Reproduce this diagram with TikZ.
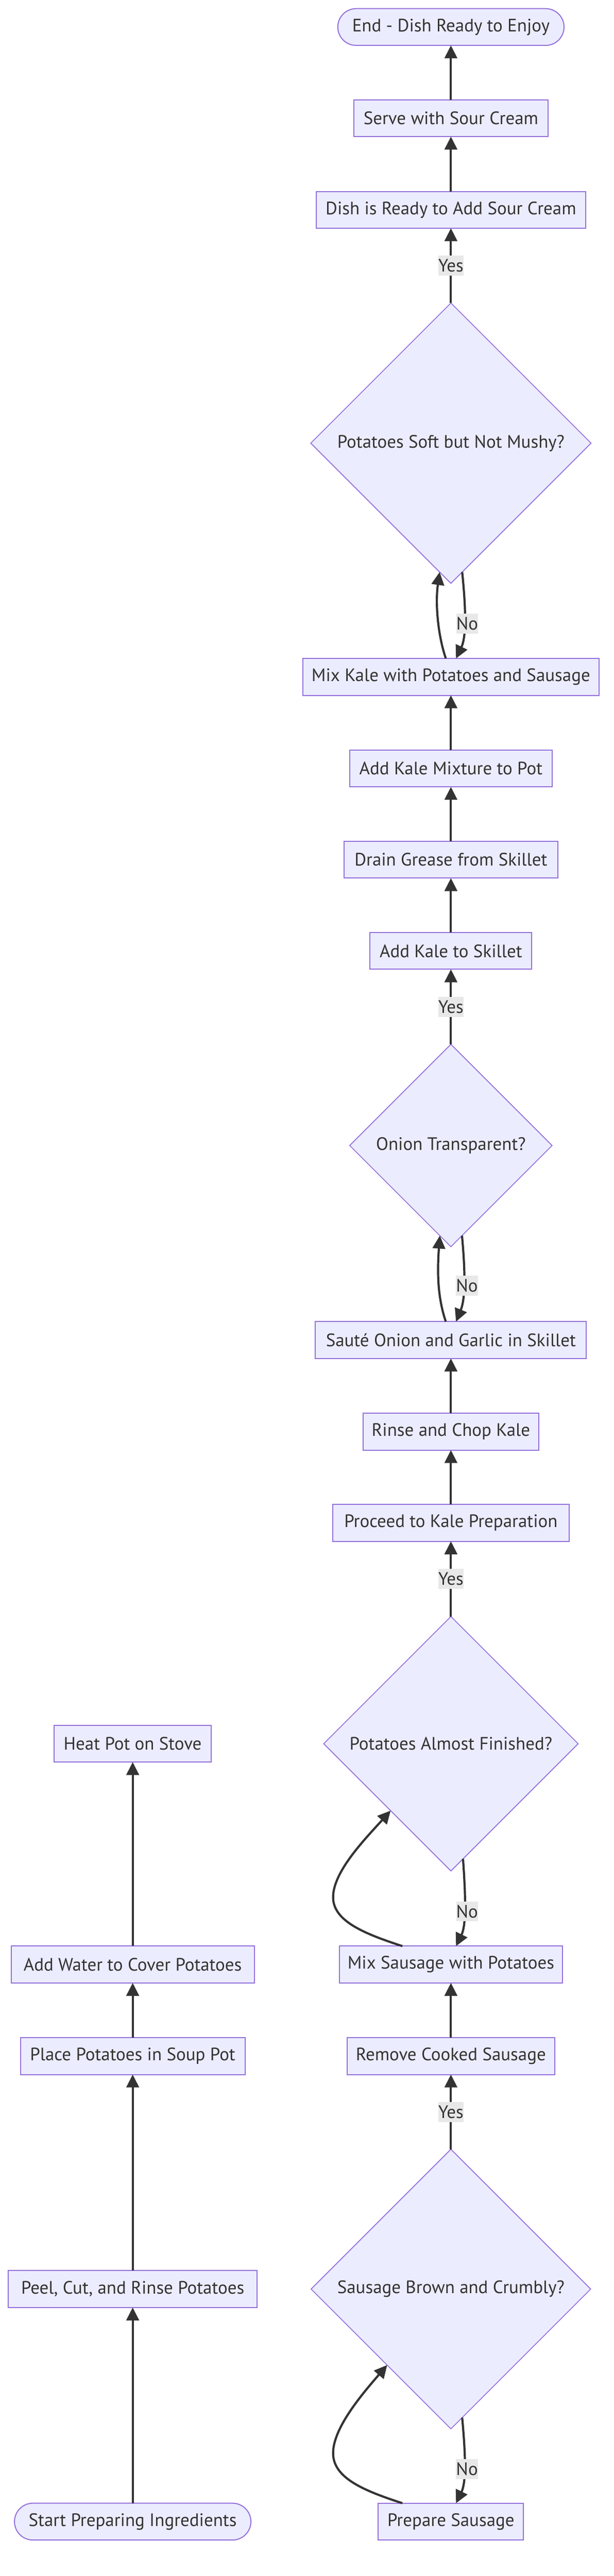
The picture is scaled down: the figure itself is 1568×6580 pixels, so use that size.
\documentclass[tikz,border=0pt]{standalone}
\usepackage{fontspec}
\setmainfont{PT Sans}
\usetikzlibrary{shapes.geometric,arrows.meta,calc}
\definecolor{nodefill}{HTML}{ECECFF}
\definecolor{nodeline}{HTML}{9370DB}
\definecolor{ink}{HTML}{333333}
\definecolor{lblbg}{HTML}{E8E8E8}
\begin{document}
\begin{tikzpicture}[x=1pt,y=-1pt,
  every node/.style={font=\fontsize{46}{55}\selectfont, text=ink},
  box/.style={draw=nodeline, fill=nodefill, line width=2.6pt, rectangle, minimum height=94pt, inner sep=0pt, outer sep=0pt},
  stadium/.style={box, rounded corners=47pt},
  decision/.style={draw=nodeline, fill=nodefill, line width=2.2pt, diamond, aspect=1, inner sep=0pt, outer sep=0pt},
  flow/.style={draw=ink, line width=5.5pt, -{Triangle[length=33pt,width=32pt]}},
  lbl/.style={fill=lblbg, inner sep=0pt, minimum height=51pt, text=ink}
]
\fill[white] (0,0) rectangle (1568,6580);
\useasboundingbox (0,0) rectangle (1568,6580);

% main column
\node[stadium, minimum width=578pt] (endn) at (1152,69) {End - Dish Ready to Enjoy};
\node[box, minimum width=497pt] (serve) at (1152,302) {Serve with Sour Cream};
\node[box, minimum width=689pt] (dishready) at (1152,536) {Dish is Ready to Add Sour Cream};
\node[decision, minimum width=716pt, minimum height=716pt] (soft) at (1152,1132) {Potatoes Soft but Not Mushy?};
\node[box, minimum width=756pt] (mixkale) at (1152,1729) {Mix Kale with Potatoes and Sausage};
\node[box, minimum width=517pt] (addmix) at (1152,1963) {Add Kale Mixture to Pot};
\node[box, minimum width=547pt] (drain) at (1152,2196) {Drain Grease from Skillet};
\node[box, minimum width=413pt] (addkale) at (1152,2429) {Add Kale to Skillet};
\node[decision, minimum width=517pt, minimum height=517pt] (onion) at (1152,2926) {Onion Transparent?};
\node[box, minimum width=692pt] (saute) at (1152,3423) {Sauté Onion and Garlic in Skillet};
\node[box, minimum width=449pt] (rinse) at (1152,3657) {Rinse and Chop Kale};
\node[box, minimum width=605pt] (proceed) at (1152,3890) {Proceed to Kale Preparation};
\node[decision, minimum width=650pt, minimum height=650pt] (almost) at (1152,4454) {Potatoes Almost Finished?};
\node[box, minimum width=569pt] (mixsaus) at (1152,5018) {Mix Sausage with Potatoes};
\node[box, minimum width=531pt] (remove) at (1152,5252) {Remove Cooked Sausage};
\node[decision, minimum width=714pt, minimum height=714pt] (sausbrown) at (1152,5847) {Sausage Brown and Crumbly?};
\node[box, minimum width=371pt] (prepsaus) at (1152,6441) {Prepare Sausage};

% left column
\node[box, minimum width=402pt] (heat) at (339,4454) {Heat Pot on Stove};
\node[box, minimum width=621pt] (water) at (339,5018) {Add Water to Cover Potatoes};
\node[box, minimum width=574pt] (place) at (339,5252) {Place Potatoes in Soup Pot};
\node[box, minimum width=635pt] (peel) at (339,5847) {Peel, Cut, and Rinse Potatoes};
\node[stadium, minimum width=604pt] (start) at (339,6441) {Start Preparing Ingredients};

% left column edges
\draw[flow] (start) -- (peel);
\draw[flow] (peel) -- (place);
\draw[flow] (place) -- (water);
\draw[flow] (water) -- (heat);

% sausage loop
\draw[flow] ($(prepsaus.north)+(-124,0)$) .. controls (930,6362) and (851,6330) .. (851,6266)
  .. controls (851,6200) and (930,6110) .. (sausbrown.230.5);
\draw[flow] (sausbrown.275.4) .. controls (1191,6285) and (1190,6343) .. node[lbl,xshift=7pt]{No} ($(prepsaus.north)+(13,0)$);
\draw[flow] (sausbrown) -- node[lbl]{Yes} (remove);
\draw[flow] (remove) -- (mixsaus);

% potatoes almost finished loop
\draw[flow] ($(mixsaus.north)+(-124,0)$) .. controls (930,4939) and (851,4907) .. (851,4846)
  .. controls (851,4780) and (935,4695) .. (almost.228.5);
\draw[flow] (almost.276) .. controls (1191,4860) and (1190,4920) .. node[lbl,xshift=7pt]{No} ($(mixsaus.north)+(13,0)$);
\draw[flow] (almost) -- node[lbl]{Yes} (proceed);
\draw[flow] (proceed) -- (rinse);
\draw[flow] (rinse) -- (saute);

% onion loop
\draw[flow] ($(saute.north)+(-13,0)$) .. controls (1120,3320) and (1116,3260) .. (onion.263.6);
\draw[flow] (onion.277.2) .. controls (1190,3260) and (1188,3320) .. node[lbl,xshift=8pt]{No} ($(saute.north)+(13,0)$);
\draw[flow] (onion) -- node[lbl]{Yes} (addkale);
\draw[flow] (addkale) -- (drain);
\draw[flow] (drain) -- (addmix);
\draw[flow] (addmix) -- (mixkale);

% soft loop
\draw[flow] ($(mixkale.north)+(-13,0)$) .. controls (1118,1620) and (1112,1540) .. (soft.265.2);
\draw[flow] (soft.275.7) .. controls (1192,1570) and (1190,1630) .. node[lbl,xshift=7pt]{No} ($(mixkale.north)+(13,0)$);
\draw[flow] (soft) -- node[lbl]{Yes} (dishready);
\draw[flow] (dishready) -- (serve);
\draw[flow] (serve) -- (endn);
\end{tikzpicture}
\end{document}
